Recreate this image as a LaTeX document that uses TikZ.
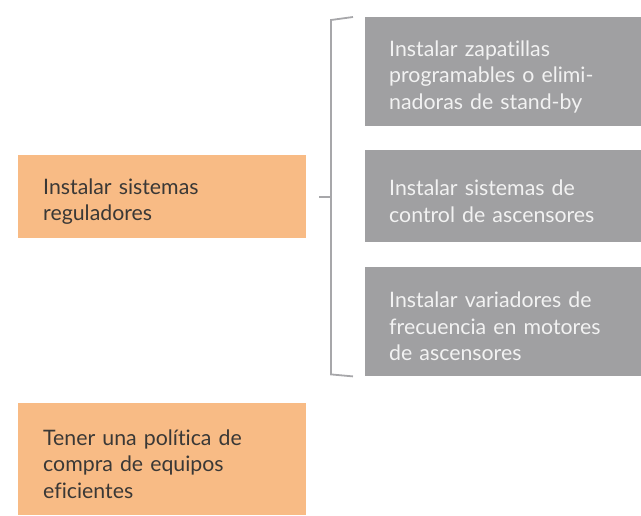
\documentclass[tikz,border=0pt]{standalone}
\usepackage{fontspec}
\setmainfont{Lato}[Ligatures=NoCommon]
\begin{document}
\begin{tikzpicture}[x=1pt, y=-1pt, font=\fontsize{21.3}{26.5}\selectfont]
    % Palette
    \definecolor{accOrange}{RGB}{248,187,133}
    \definecolor{accGray}{RGB}{160,160,162}
    \definecolor{accLine}{RGB}{167,167,170}
    \definecolor{accText}{RGB}{58,56,54}
    \definecolor{accLight}{RGB}{242,242,242}

    \tikzset{
      orangebox/.style={fill=accOrange, text=accText, anchor=north west,
        inner xsep=25pt, inner ysep=0pt, text width=238pt, align=left,
        execute at end node={\par\vspace{-10pt}}},
      graybox/.style={fill=accGray, text=accLight, anchor=north west,
        inner xsep=24pt, inner ysep=0pt, text width=228pt, align=left,
        execute at end node={\par\vspace{-10pt}}},
      bracket/.style={draw=accLine, line width=1.8pt},
    }

    % Canvas: 641 x 515, y grows downwards
    \useasboundingbox (0,0) rectangle (641,515);

    % Left column
    \node[orangebox, minimum height=83pt]  (reg)    at (18,155) {Instalar sistemas\\reguladores};
    \node[orangebox, minimum height=112pt] (compra) at (18,403) {Tener una política de\\compra de equipos\\eficientes};

    % Right column
    \node[graybox, minimum height=109pt] (zap) at (365,17)  {Instalar zapatillas\\programables o elimi-\\nadoras de stand-by};
    \node[graybox, minimum height=92pt]  (asc) at (365,150) {Instalar sistemas de\\control de ascensores};
    \node[graybox, minimum height=109pt] (var) at (365,267) {Instalar variadores de\\frecuencia en motores\\de ascensores};

    % Bracket joining the three actions
    \coordinate (brTopEnd) at ([xshift=-12pt]zap.north west);
    \coordinate (brTop)    at ([xshift=-34pt, yshift=-3pt]zap.north west);
    \coordinate (brBotEnd) at ([xshift=-12pt]var.south west);
    \coordinate (brBot)    at ([xshift=-34pt, yshift=2pt]var.south west);
    \coordinate (brMid)    at ([xshift=13pt]reg.east);

    \draw[bracket] (brTopEnd) -- (brTop) -- (brBot) -- (brBotEnd);
    \draw[bracket] (brMid) -- (brMid -| brTop);
\end{tikzpicture}
\end{document}
